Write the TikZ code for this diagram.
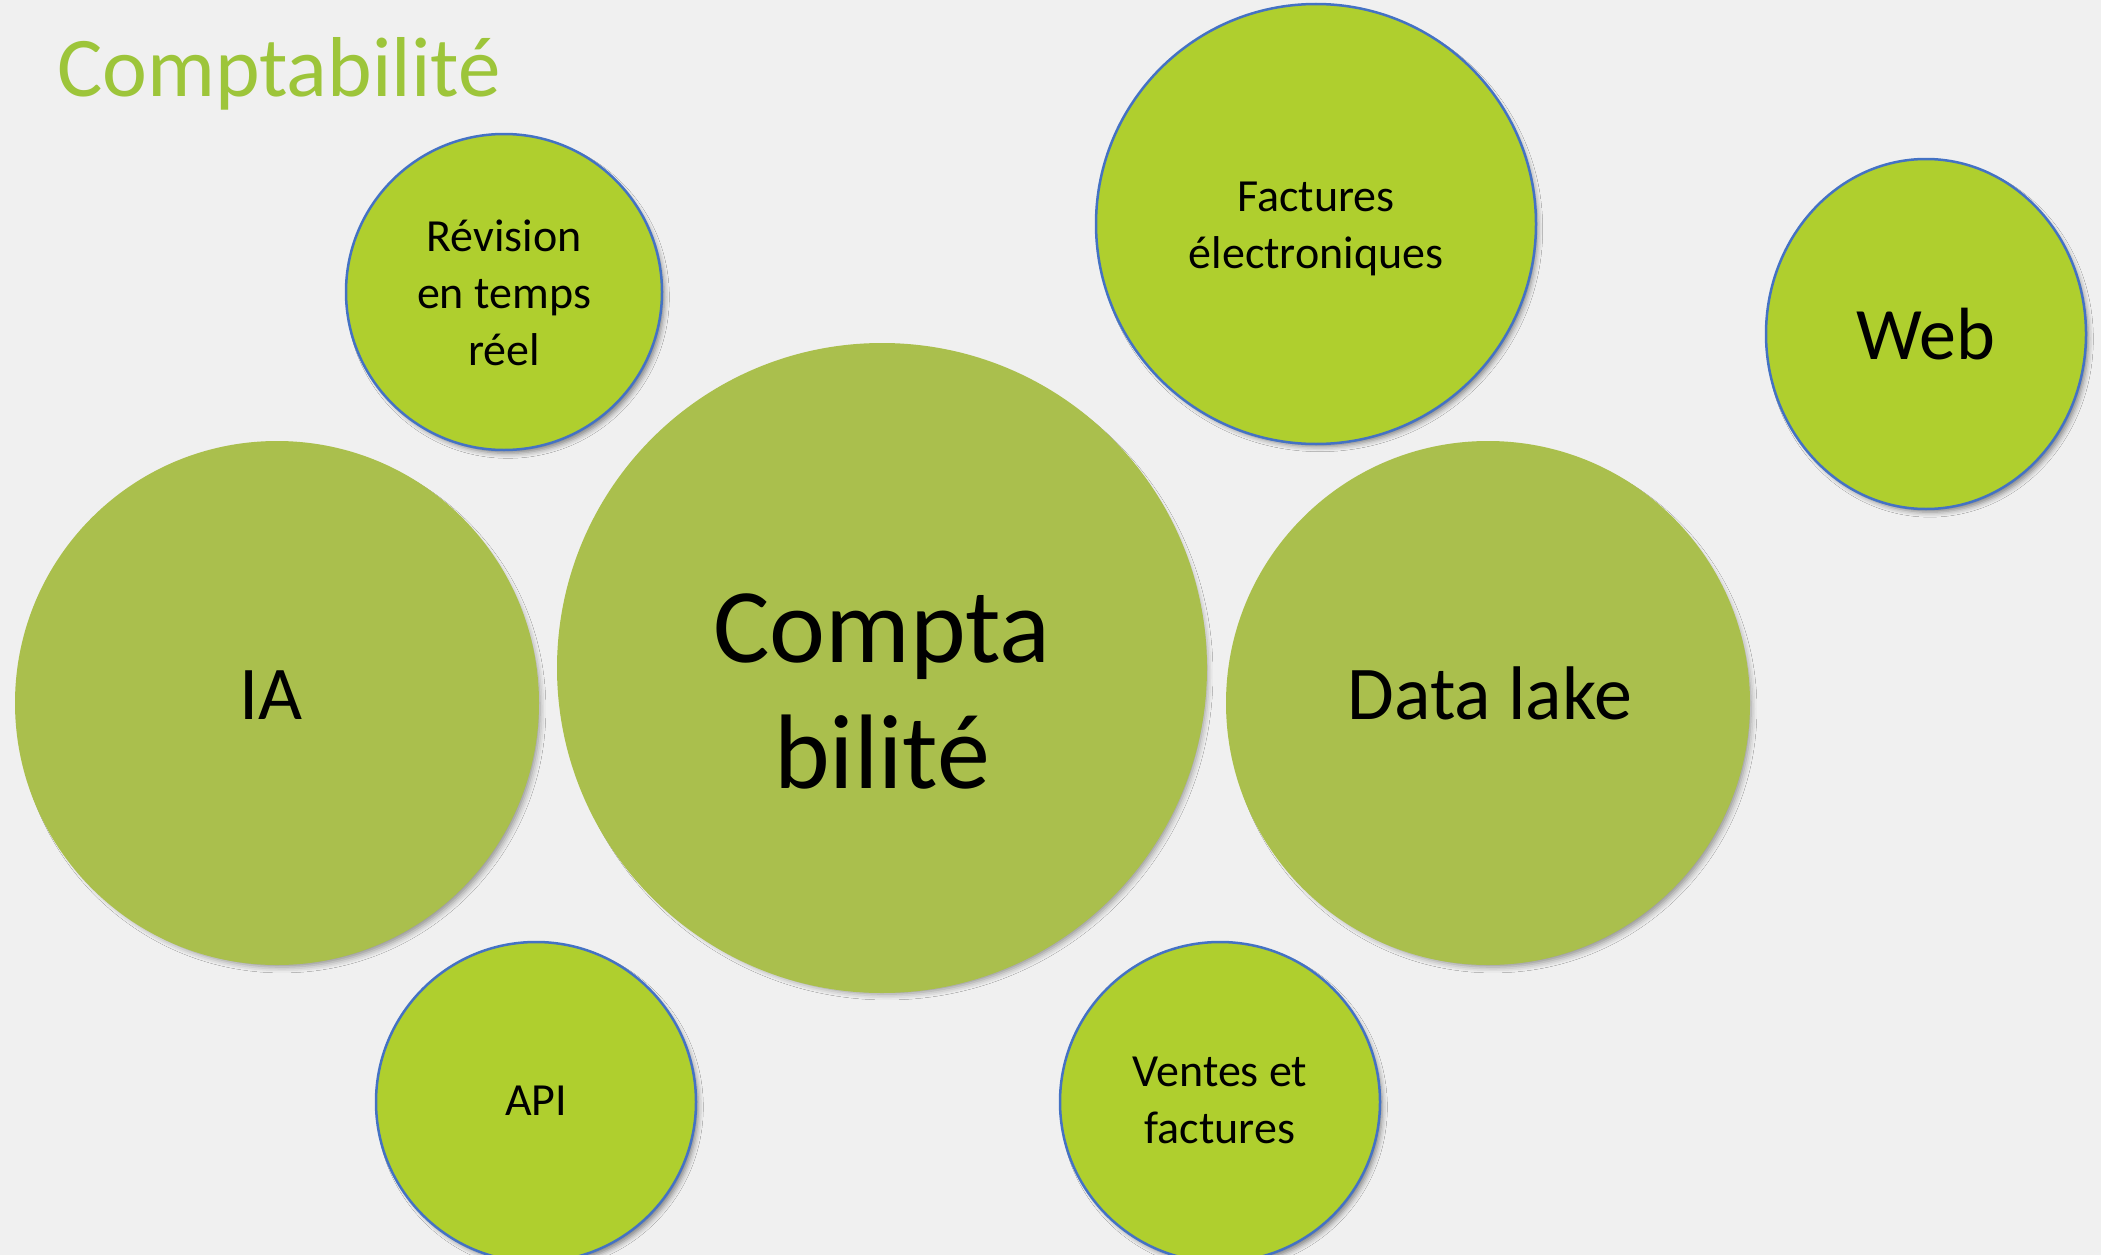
\documentclass[tikz,border=0pt]{standalone}
\usepackage{fontspec}
\setmainfont{Carlito}
\usetikzlibrary{shapes.geometric,shadows.blur}
\definecolor{bgcol}{HTML}{F0F0F0}
\definecolor{limec}{HTML}{AFCF2E}
\definecolor{olivec}{HTML}{AABF4D}
\definecolor{bordc}{HTML}{4472C4}
\definecolor{titlec}{HTML}{9DC53A}
\begin{document}
\begin{tikzpicture}[x=1pt,y=-1pt,
  smallc/.style={fill=limec, draw=bordc, line width=2.5pt, inner sep=0pt,
    blur shadow={shadow xshift=4pt, shadow yshift=-5pt, shadow scale=0.99, shadow blur radius=5pt, shadow opacity=45}},
  bigc/.style={circle, fill=olivec, inner sep=0pt,
    blur shadow={shadow xshift=5pt, shadow yshift=-6pt, shadow scale=0.985, shadow blur radius=6pt, shadow opacity=40}},
  smalltxt/.style={align=center, inner sep=0pt, font=\fontsize{46}{57}\selectfont},
  bigtxt/.style={align=center, inner sep=0pt, font=\fontsize{76}{92}\selectfont},
]
\clip (0,0) rectangle (2101,1255);
\fill[bgcol] (0,0) rectangle (2101,1255);

% title
\node[anchor=base west, inner sep=0pt, text=titlec, font=\fontsize{85}{100}\selectfont] (title) at (57,96) {Comptabilité};

% big circles
\node[bigc, minimum size=524pt] (ia) at (277,703) {};
\node[bigc, minimum size=650pt] (compta) at (882,668) {};
\node[bigc, minimum size=524pt] (datalake) at (1488,703) {};

% small circles
\node[smallc, circle, minimum size=316pt] (revision) at (504,292) {};
\node[smallc, circle, minimum size=440pt] (factures) at (1316,224) {};
\node[smallc, ellipse, minimum width=320pt, minimum height=350pt] (web) at (1926,334) {};
\node[smallc, circle, minimum size=320pt] (api) at (536,1102) {};
\node[smallc, circle, minimum size=320pt] (ventes) at (1220,1102) {};

% texts
\node[bigtxt] (iaT) at (271,701) {\strut IA};
\node[bigtxt] (datalakeT) at (1490,701) {\strut Data lake};
\node[align=center, inner sep=0pt, font=\fontsize{106}{126}\selectfont] (comptaT) at (882,700) {\strut Compta\\\strut bilité};
\node[smalltxt] (revisionT) at (504,297) {\strut Révision\\\strut en temps\\\strut réel};
\node[smalltxt] (facturesT) at (1316,229) {\strut Factures\\\strut électroniques};
\node[align=center, inner sep=0pt, font=\fontsize{74}{90}\selectfont] (webT) at (1926,341) {\strut Web};
\node[smalltxt] (apiT) at (536,1104) {\strut API};
\node[smalltxt] (ventesT) at (1220,1104) {\strut Ventes et\\\strut factures};
\end{tikzpicture}
\end{document}
